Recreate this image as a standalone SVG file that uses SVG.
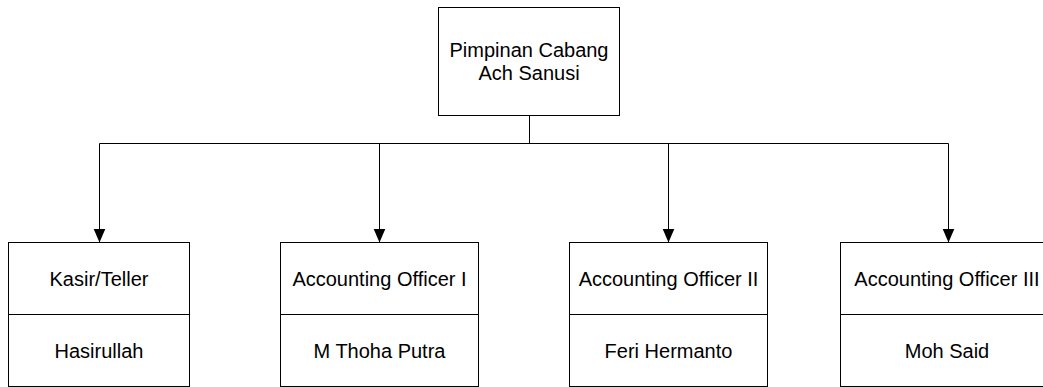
<svg xmlns="http://www.w3.org/2000/svg" width="1043" height="387" viewBox="0 0 1043 387">
<style>
.box{fill:#fff;stroke:#000;stroke-width:1}
.div{stroke:#000;stroke-width:1}
.conn{fill:none;stroke:#000;stroke-width:1}
text{font-family:"Liberation Sans",Arial,sans-serif;font-size:20px;fill:#000;text-anchor:middle}
</style>
<defs>
<marker id="arr" markerUnits="userSpaceOnUse" markerWidth="14" markerHeight="14" refX="14" refY="7" orient="auto" viewBox="0 0 14 14">
<path d="M0,1 L14,7 L0,13 Z" fill="#000"/>
</marker>
</defs>
<rect width="1043" height="387" fill="#fff"/>
<g id="connectors">
<path class="conn" d="M529.5,115.5 V143.5"/>
<path class="conn" d="M99.5,143.5 H948.5"/>
<path class="conn" d="M99.5,143.5 V242.5" marker-end="url(#arr)"/>
<path class="conn" d="M379.5,143.5 V242.5" marker-end="url(#arr)"/>
<path class="conn" d="M668.5,143.5 V242.5" marker-end="url(#arr)"/>
<path class="conn" d="M948.5,143.5 V242.5" marker-end="url(#arr)"/>
</g>
<g id="pimpinan">
<rect class="box" x="438.5" y="7.5" width="181" height="108"/>
<text x="529" y="57">Pimpinan Cabang</text>
<text x="529" y="80">Ach Sanusi</text>
</g>
<g id="kasir">
<rect class="box" x="8.5" y="242.5" width="181" height="144"/>
<line class="div" x1="8.5" y1="314.5" x2="189.5" y2="314.5"/>
<text x="99" y="286">Kasir/Teller</text>
<text x="99" y="358">Hasirullah</text>
</g>
<g id="ao1">
<rect class="box" x="280.5" y="242.5" width="198" height="144"/>
<line class="div" x1="280.5" y1="314.5" x2="478.5" y2="314.5"/>
<text x="379.5" y="286">Accounting Officer I</text>
<text x="379.5" y="358">M Thoha Putra</text>
</g>
<g id="ao2">
<rect class="box" x="569.5" y="242.5" width="198" height="144"/>
<line class="div" x1="569.5" y1="314.5" x2="767.5" y2="314.5"/>
<text x="668.5" y="286">Accounting Officer II</text>
<text x="668.5" y="358">Feri Hermanto</text>
</g>
<g id="ao3">
<rect class="box" x="840.5" y="242.5" width="216" height="144"/>
<line class="div" x1="840.5" y1="314.5" x2="1056.5" y2="314.5"/>
<text x="947" y="286">Accounting Officer III</text>
<text x="947" y="358">Moh Said</text>
</g>
</svg>
